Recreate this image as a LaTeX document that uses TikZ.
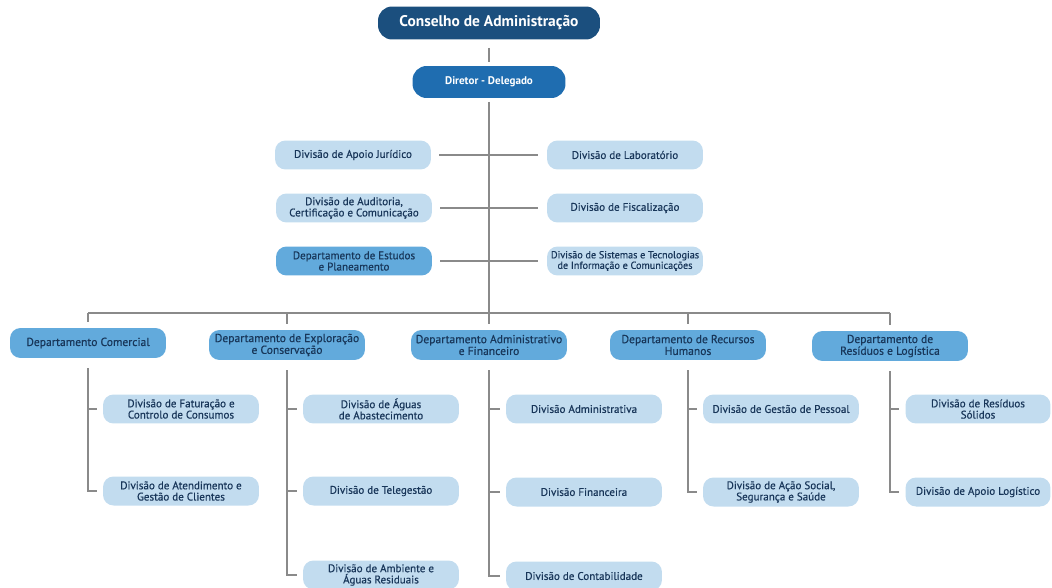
\documentclass[tikz,border=0pt]{standalone}
\usepackage{fontspec}
\setmainfont{PT Sans}
\newfontfamily\boxfont[FakeBold=0.5]{PT Sans}
\usetikzlibrary{positioning,calc}
\definecolor{navy}{HTML}{1B4F7E}
\definecolor{director}{HTML}{1F6DB0}
\definecolor{deptblue}{HTML}{62AADC}
\definecolor{divblue}{HTML}{C2DCEF}
\definecolor{inktext}{HTML}{183659}
\definecolor{linegray}{HTML}{8A8A8A}

\begin{document}
\begin{tikzpicture}[x=0.02cm, y=-0.02cm,
  box/.style={rectangle, rounded corners=6pt, fill=#1, minimum width=3.12cm, minimum height=0.58cm, align=center, inner sep=1pt, text=inktext, font=\boxfont\fontsize{6.3}{6.4}\selectfont},
  topbox/.style={box=#1, text=white},
  conn/.style={draw=linegray, line width=1pt}
]
  \useasboundingbox (0,0) rectangle (1052,588);
  \node[topbox=navy, minimum width=4.44cm, minimum height=0.66cm, rounded corners=8pt, font=\fontsize{8.8}{10}\selectfont\bfseries] (board) at (489,23) {Conselho de Administração};
  \node[topbox=director, minimum width=3.06cm, minimum height=0.64cm, rounded corners=8pt, font=\fontsize{6.3}{7}\selectfont\bfseries] (ceo) at (489,82) {Diretor - Delegado};

  \node[box=divblue] (legal) at (353,155) {Divisão de Apoio Jurídico};
  \node[box=divblue] (lab) at (625,155) {Divisão de Laboratório};
  \node[box=divblue] (audit) at (354,208) {Divisão de Auditoria,\\Certificação e Comunicação};
  \node[box=divblue] (inspect) at (625,208) {Divisão de Fiscalização};
  \node[box=deptblue] (studies) at (354,261) {Departamento de Estudos\\e Planeamento};
  \node[box=divblue, font=\boxfont\fontsize{5.8}{6}\selectfont] (ict) at (625,261) {Divisão de Sistemas e Tecnologias\\de Informação e Comunicações};

  \node[box=deptblue, minimum height=0.6cm, font=\boxfont\fontsize{6.6}{6.7}\selectfont] (sales) at (88,343) {Departamento Comercial};
  \node[box=deptblue, minimum height=0.6cm, font=\boxfont\fontsize{6.6}{6.7}\selectfont] (ops) at (287,345) {Departamento de Exploração\\e Conservação};
  \node[box=deptblue, minimum height=0.6cm, font=\boxfont\fontsize{6.6}{6.7}\selectfont] (admin) at (489,345) {Departamento Administrativo\\e Financeiro};
  \node[box=deptblue, minimum height=0.6cm, font=\boxfont\fontsize{6.6}{6.7}\selectfont] (hr) at (688,345) {Departamento de Recursos\\Humanos};
  \node[box=deptblue, minimum height=0.6cm, font=\boxfont\fontsize{6.6}{6.7}\selectfont] (waste) at (890,346) {Departamento de\\Resíduos e Logística};

  \node[box=divblue] (billing) at (181,409) {Divisão de Faturação e\\Controlo de Consumos};
  \node[box=divblue] (clients) at (181,491) {Divisão de Atendimento e\\Gestão de Clientes};
  \node[box=divblue] (supply) at (381,409) {Divisão de Águas\\de Abastecimento};
  \node[box=divblue] (telemetry) at (381,491) {Divisão de Telegestão};
  \node[box=divblue] (environ) at (381,575) {Divisão de Ambiente e\\Águas Residuais};
  \node[box=divblue] (admindiv) at (584,409) {Divisão Administrativa};
  \node[box=divblue] (finance) at (584,492) {Divisão Financeira};
  \node[box=divblue] (accounts) at (584,576) {Divisão de Contabilidade};
  \node[box=divblue] (people) at (781,409) {Divisão de Gestão de Pessoal};
  \node[box=divblue] (social) at (781,492) {Divisão de Ação Social,\\Segurança e Saúde};
  \node[box=divblue, minimum width=2.9cm] (solid) at (978,409) {Divisão de Resíduos\\Sólidos};
  \node[box=divblue, minimum width=2.9cm] (logist) at (978,492) {Divisão de Apoio Logístico};

  \coordinate (bus) at (489,313);
  \draw[conn, shorten <=4.5pt, shorten >=2.3pt] (board) -- (ceo);
  \draw[conn, shorten <=2pt] (ceo) -- (ceo |- bus);
  \draw[conn] (sales.north |- bus) -- (waste.north |- bus);
  \foreach \d in {sales,ops,admin,hr,waste}
    \draw[conn, shorten >=3pt] (\d.north |- bus) -- (\d.north);
  \foreach \l/\r in {legal/lab,audit/inspect,studies/ict}
    \draw[conn, shorten <=4.5pt, shorten >=5pt] (\l) -- (\r);

  \foreach \d/\last in {sales/clients,ops/environ,admin/accounts,hr/social,waste/logist}
    \draw[conn, shorten <=5.5pt, shorten >=3.5pt] (\d.south) |- (\last.west);
  \foreach \d/\sub in {sales/billing,ops/supply,ops/telemetry,admin/admindiv,admin/finance,hr/people,waste/solid}
    \draw[conn, shorten >=3.5pt] (\d.south |- \sub) -- (\sub.west);
\end{tikzpicture}
\end{document}
